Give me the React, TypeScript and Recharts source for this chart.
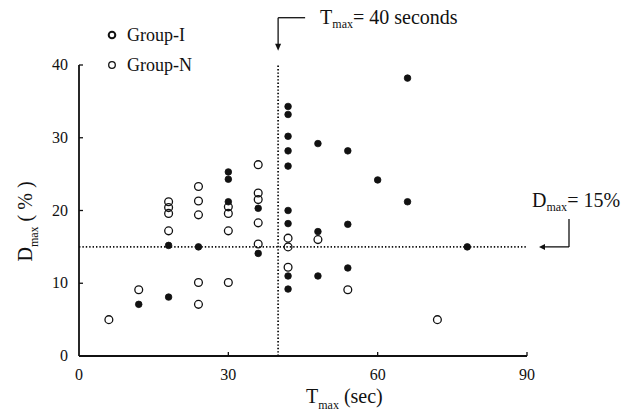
import React from 'react';
import { ScatterChart, Scatter, XAxis, YAxis, ReferenceLine, ReferenceDot, Legend } from 'recharts';

// Group-I (filled markers): T_max (sec), D_max (%)
const groupI = [
  { t: 12, d: 7.1 }, { t: 18, d: 8.1 }, { t: 18, d: 15.2 }, { t: 24, d: 15.0 },
  { t: 30, d: 25.3 }, { t: 30, d: 24.3 }, { t: 30, d: 21.2 },
  { t: 36, d: 20.3 }, { t: 36, d: 14.1 },
  { t: 42, d: 34.3 }, { t: 42, d: 33.2 }, { t: 42, d: 30.2 }, { t: 42, d: 28.2 }, { t: 42, d: 26.1 },
  { t: 42, d: 20.0 }, { t: 42, d: 18.2 }, { t: 42, d: 11.0 }, { t: 42, d: 9.2 },
  { t: 48, d: 29.2 }, { t: 48, d: 17.1 }, { t: 48, d: 11.0 },
  { t: 54, d: 28.2 }, { t: 54, d: 18.1 }, { t: 54, d: 12.1 },
  { t: 60, d: 24.2 }, { t: 66, d: 38.2 }, { t: 66, d: 21.2 }, { t: 78, d: 15.0 },
];

// Group-N (open markers)
const groupN = [
  { t: 6, d: 5.0 }, { t: 12, d: 9.1 },
  { t: 18, d: 21.2 }, { t: 18, d: 20.4 }, { t: 18, d: 19.6 }, { t: 18, d: 17.2 },
  { t: 24, d: 23.3 }, { t: 24, d: 21.3 }, { t: 24, d: 19.4 }, { t: 24, d: 10.1 }, { t: 24, d: 7.1 },
  { t: 30, d: 20.5 }, { t: 30, d: 19.6 }, { t: 30, d: 17.2 }, { t: 30, d: 10.1 },
  { t: 36, d: 26.3 }, { t: 36, d: 22.4 }, { t: 36, d: 21.5 }, { t: 36, d: 18.3 }, { t: 36, d: 15.4 },
  { t: 42, d: 16.2 }, { t: 42, d: 15.0 }, { t: 42, d: 12.2 },
  { t: 48, d: 16.0 }, { t: 54, d: 9.1 }, { t: 72, d: 5.0 },
];

const xTicks = [0, 30, 60, 90];
const yTicks = [0, 10, 20, 30, 40];
const tThreshold = 40;
const dThreshold = 15;
const tLabelAnchorY = 46.5;

const FONT = '"Liberation Serif", "Times New Roman", serif';
const INK = '#111';

const XTick = (props: any) => {
  const { x, y, payload } = props;
  return (
    <g>
      {payload.value !== 0 && <line x1={x} x2={x} y1={y} y2={y - 4} stroke={INK} strokeWidth={1.3} />}
      <text x={x} y={y + 24} textAnchor="middle" fontFamily={FONT} fontSize={16} fill={INK}>{payload.value}</text>
    </g>
  );
};

const YTick = (props: any) => {
  const { x, y, payload } = props;
  return (
    <g>
      {payload.value !== 0 && <line x1={x} x2={x + 4} y1={y} y2={y} stroke={INK} strokeWidth={1.3} />}
      <text x={x - 11} y={y + 5} textAnchor="end" fontFamily={FONT} fontSize={16} fill={INK}>{payload.value}</text>
    </g>
  );
};

const FilledDot = (p: any) => <circle cx={p.cx} cy={p.cy} r={3.3} fill={INK} stroke={INK} strokeWidth={0.8} />;
const OpenDot = (p: any) => <circle cx={p.cx} cy={p.cy} r={3.9} fill="none" stroke={INK} strokeWidth={1.3} />;

const TAnnotation = (p: any) => {
  const { cx, cy } = p;
  return (
    <g>
      <line x1={cx} y1={cy} x2={cx + 27} y2={cy} stroke={INK} strokeWidth={1.3} />
      <line x1={cx} y1={cy} x2={cx} y2={cy + 27} stroke={INK} strokeWidth={1.3} />
      <polygon points={`${cx - 3},${cy + 26} ${cx + 3},${cy + 26} ${cx},${cy + 33}`} fill={INK} />
      <text x={cx + 42} y={cy + 6} fontFamily={FONT} fontSize={20} fill={INK}>
        T<tspan fontSize={12} dy={4}>max</tspan><tspan dy={-4}>= 40 seconds</tspan>
      </text>
    </g>
  );
};

const DAnnotation = (p: any) => {
  const { cx, cy } = p;
  return (
    <g>
      <line x1={cx + 14} y1={cy} x2={cx + 42} y2={cy} stroke={INK} strokeWidth={1.3} />
      <line x1={cx + 42} y1={cy} x2={cx + 42} y2={cy - 28} stroke={INK} strokeWidth={1.3} />
      <polygon points={`${cx + 12},${cy} ${cx + 18},${cy - 3} ${cx + 18},${cy + 3}`} fill={INK} />
      <text x={cx + 5} y={cy - 40} fontFamily={FONT} fontSize={20} fill={INK}>
        D<tspan fontSize={12} dy={4}>max</tspan><tspan dy={-4}>= 15%</tspan>
      </text>
    </g>
  );
};

const XTitle = (props: any) => {
  const vb = props.viewBox;
  const cx = vb.x + vb.width / 2;
  return (
    <text x={cx + 3} y={vb.y + 47} fontFamily={FONT} fontSize={20} fill={INK}>
      T<tspan fontSize={12} dy={6}>max</tspan><tspan dy={-6}> (sec)</tspan>
    </text>
  );
};

const YTitle = (props: any) => {
  const vb = props.viewBox;
  const cy = vb.y + vb.height / 2 + 6;
  const x = 32;
  return (
    <text x={x} y={cy + 5} transform={`rotate(-90, ${x}, ${cy + 5})`} textAnchor="middle" fontFamily={FONT} fontSize={20} fill={INK}>
      D<tspan fontSize={12} dy={6}>max</tspan><tspan dy={-6}> ( % )</tspan>
    </text>
  );
};

const LegendContent = () => (
  <div style={{ fontFamily: FONT, fontSize: 18, color: INK, lineHeight: '30px' }}>
    <div style={{ display: 'flex', alignItems: 'center', height: 30 }}>
      <svg width={14} height={14}><circle cx={7} cy={7} r={3.3} fill="none" stroke={INK} strokeWidth={2} /></svg>
      <span style={{ marginLeft: 8 }}>Group-I</span>
    </div>
    <div style={{ display: 'flex', alignItems: 'center', height: 30 }}>
      <svg width={14} height={14}><circle cx={7} cy={7} r={3.3} fill="none" stroke={INK} strokeWidth={1.3} /></svg>
      <span style={{ marginLeft: 8 }}>Group-N</span>
    </div>
  </div>
);

export default function App() {
  return (
    <div style={{ position: 'absolute', left: 0, top: 0, width: 635, height: 419, background: '#fff' }}>
      <ScatterChart width={635} height={419} margin={{ top: 65, right: 108, bottom: 23, left: 39 }}>
        <XAxis
          type="number"
          dataKey="t"
          domain={[0, 90]}
          ticks={xTicks}
          tick={<XTick />}
          tickSize={0}
          tickMargin={0}
          tickLine={false}
          axisLine={{ stroke: INK, strokeWidth: 1.8 }}
          height={40}
          label={XTitle}
        />
        <YAxis
          type="number"
          dataKey="d"
          domain={[0, 40]}
          ticks={yTicks}
          tick={<YTick />}
          tickSize={0}
          tickMargin={0}
          tickLine={false}
          axisLine={{ stroke: INK, strokeWidth: 1.8 }}
          width={40}
          label={YTitle}
        />
        <Legend
          layout="vertical"
          align="center"
          verticalAlign="middle"
          content={<LegendContent />}
          wrapperStyle={{ left: 105, top: 20, width: 120, height: 60 }}
        />
        <ReferenceLine x={tThreshold} stroke={INK} strokeWidth={1.8} strokeDasharray="1.4 2" />
        <ReferenceLine y={dThreshold} stroke={INK} strokeWidth={1.8} strokeDasharray="1.4 2" />
        <Scatter name="Group-N" data={groupN} isAnimationActive={false} shape={OpenDot} />
        <Scatter name="Group-I" data={groupI} isAnimationActive={false} shape={FilledDot} />
        <ReferenceDot x={tThreshold} y={tLabelAnchorY} r={0} ifOverflow="visible" shape={TAnnotation} />
        <ReferenceDot x={90} y={dThreshold} r={0} ifOverflow="visible" shape={DAnnotation} />
      </ScatterChart>
    </div>
  );
}
